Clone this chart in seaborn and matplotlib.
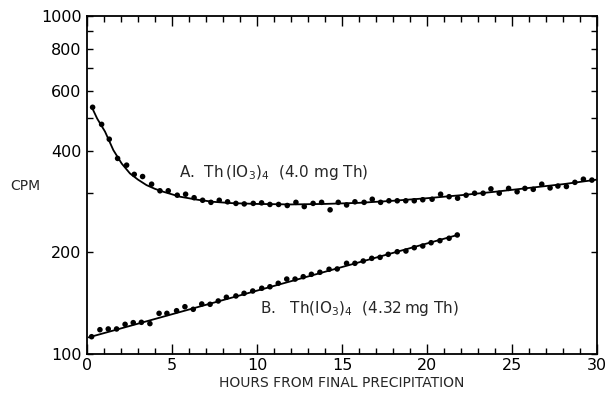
import matplotlib
matplotlib.use("Agg")
import matplotlib.pyplot as plt
import seaborn as sns
import numpy as np
import pandas as pd
from matplotlib.ticker import FixedLocator, MultipleLocator, NullFormatter

# ---------------- data ----------------
a_hours = [0.33, 0.86, 1.31, 1.80, 2.33, 2.78, 3.27, 3.80, 4.29, 4.78, 5.31, 5.80,
           6.30, 6.80, 7.29, 7.78, 8.27, 8.76, 9.25, 9.78, 10.27, 10.76, 11.27, 11.78,
           12.29, 12.78, 13.30, 13.80, 14.30, 14.78, 15.27, 15.76, 16.30, 16.78, 17.27,
           17.76, 18.25, 18.75, 19.25, 19.75, 20.30, 20.80, 21.30, 21.80, 22.30, 22.80,
           23.30, 23.76, 24.25, 24.80, 25.30, 25.76, 26.25, 26.75, 27.24, 27.70, 28.20,
           28.70, 29.20, 29.70]
a_cpm = [537, 478, 432, 379, 362, 340, 335, 318, 304, 304, 295, 297,
         290, 285, 281, 285, 282, 279, 278, 279, 280, 277, 277, 275,
         281, 273, 279, 281, 267, 281, 276, 282, 281, 287, 281,
         284, 284, 284, 284, 286, 287, 297, 292, 289, 295, 299,
         299, 308, 299, 309, 302, 309, 307, 318, 310, 314, 313,
         322, 329, 327]

a_fit_hours = [0.27, 0.6, 1.06, 1.55, 2.04, 2.53, 3.0, 3.5, 4.0, 4.49, 5.47, 6.5,
               7.43, 8.5, 9.98, 12, 14, 16, 18, 20, 22, 24, 26, 28, 30]
a_fit_cpm = [539, 497, 455, 401, 366, 342, 328, 316, 308, 302, 292, 286,
             282, 279.5, 278, 277, 278, 280, 284, 289, 295, 302, 310, 318, 328]

b_hours = [0.27, 0.76, 1.25, 1.74, 2.24, 2.72, 3.20, 3.70, 4.24, 4.70, 5.27, 5.76,
           6.25, 6.75, 7.24, 7.72, 8.20, 8.76, 9.24, 9.75, 10.28, 10.76, 11.25, 11.75,
           12.24, 12.72, 13.20, 13.70, 14.24, 14.72, 15.27, 15.76, 16.25, 16.75, 17.24,
           17.72, 18.25, 18.76, 19.25, 19.75, 20.24, 20.76, 21.30, 21.78]
b_cpm = [112.5, 118, 118.6, 118.6, 122.4, 123.8, 124.1, 123, 131.9, 131.9, 134.3, 138,
         135.6, 140.6, 140.3, 143.5, 147.2, 148.5, 151.2, 153.6, 156.5, 158.1, 161.9, 166.6,
         166.6, 169.3, 172.1, 174.5, 178.1, 178.5, 185.5, 185.5, 188.4, 191.9, 193.2,
         197.2, 200.7, 201.7, 206.3, 208.7, 213.4, 216.4, 220, 225]

b_fit_hours = [0.1, 21.8]
b_fit_cpm = [112.0, 225.0]

y_major = [100, 200, 400, 600, 800, 1000]
y_minor = [300, 500, 700, 900]
x_ticks = [0, 5, 10, 15, 20, 25, 30]

label_a = "A.  Th$\\,$(IO$_3$)$_4$  (4.0 mg Th)"
label_b = "B.   Th(IO$_3$)$_4$  (4.32$\\,$mg Th)"

# ---------------- plotting ----------------
sns.set_style("ticks")
plt.rcParams['font.family'] = ['DejaVu Sans']
plt.rcParams['mathtext.default'] = 'regular'

df_a = pd.DataFrame({"h": a_hours, "cpm": a_cpm})
df_b = pd.DataFrame({"h": b_hours, "cpm": b_cpm})
fa = pd.DataFrame({"h": a_fit_hours, "cpm": a_fit_cpm})
fb = pd.DataFrame({"h": b_fit_hours, "cpm": b_fit_cpm})

fig = plt.figure(figsize=(6.06, 3.97), dpi=100)
ax = fig.add_axes([87/606, 1-354/397, (597-87)/606, (354-16)/397])
ax.set_yscale('log')

sns.lineplot(data=fa, x="h", y="cpm", ax=ax, color="black", lw=1.3, sort=False)
sns.lineplot(data=fb, x="h", y="cpm", ax=ax, color="black", lw=1.3, sort=False)
sns.scatterplot(data=df_a, x="h", y="cpm", ax=ax, color="black", s=16, edgecolor="none")
sns.scatterplot(data=df_b, x="h", y="cpm", ax=ax, color="black", s=16, edgecolor="none")

ax.set_xlim(0, 30)
ax.set_ylim(100, 1000)

ax.yaxis.set_major_locator(FixedLocator(y_major))
ax.set_yticklabels([str(v) for v in y_major])
ax.yaxis.set_minor_locator(FixedLocator(y_minor))
ax.yaxis.set_minor_formatter(NullFormatter())
ax.xaxis.set_major_locator(FixedLocator(x_ticks))
ax.set_xticklabels([str(v) for v in x_ticks])
ax.xaxis.set_minor_locator(MultipleLocator(1))

ax.tick_params(axis='both', which='both', direction='in', top=True, right=True,
               width=1.0, colors='black', labelsize=11.5)
ax.tick_params(axis='x', which='major', length=7, pad=3)
ax.tick_params(axis='x', which='minor', length=4)
ax.tick_params(axis='y', which='both', length=4.5, pad=4)

for s in ax.spines.values():
    s.set_linewidth(1.3)
    s.set_color('black')

ax.set_xlabel("HOURS FROM FINAL PRECIPITATION", fontsize=10, labelpad=2)
ax.set_ylabel("")
fig.text(25/606, 1-186/397, "CPM", fontsize=10, ha='center', va='center')

ax.text(5.4, 345, label_a, fontsize=11, ha='left', va='center')
ax.text(10.2, 136, label_b, fontsize=11, ha='left', va='center')

fig.savefig("out.png", dpi=100)
